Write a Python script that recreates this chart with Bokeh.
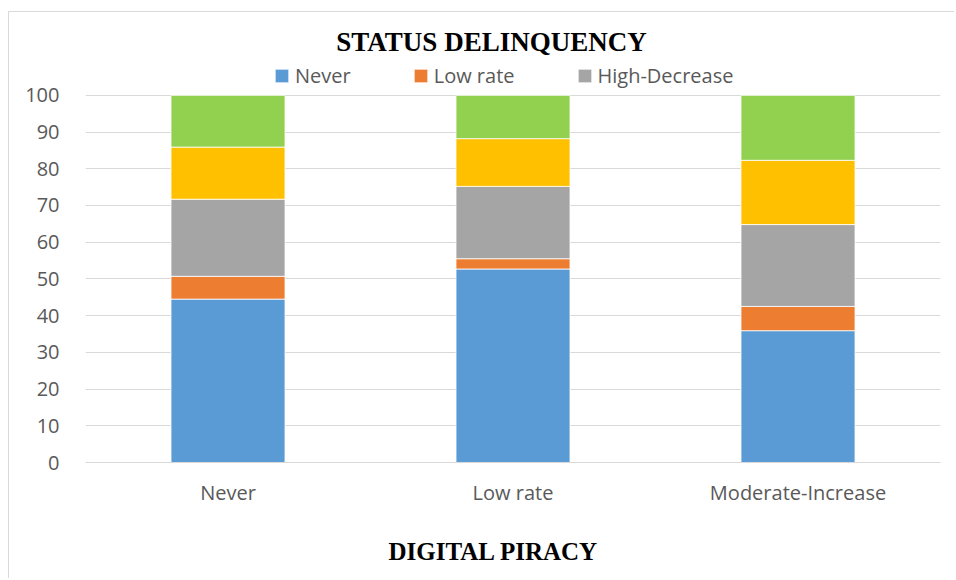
from bokeh.plotting import figure
from bokeh.models import (FactorRange, Range1d, Legend, LegendItem, Title, Label,
                          FixedTicker)
from bokeh.embed import file_html
from bokeh.resources import INLINE

categories = ["Never", "Low rate", "Moderate-Increase"]
series = ["Never", "Low rate", "High-Decrease", "Moderate-Increase", "High-Increase"]
never = [44.5, 52.7, 35.9]
low_rate = [6.2, 2.8, 6.6]
high_decrease = [21.0, 19.7, 22.3]
moderate_increase = [14.2, 13.0, 17.5]
high_increase = [14.1, 11.8, 17.7]
colors = ["#5B9BD5", "#ED7D31", "#A5A5A5", "#FFC000", "#92D050"]
legend_series = ["Never", "Low rate", "High-Decrease"]
y_ticks = [0, 10, 20, 30, 40, 50, 60, 70, 80, 90, 100]

data = {"cat": categories, "Never": never, "Low rate": low_rate,
        "High-Decrease": high_decrease, "Moderate-Increase": moderate_increase,
        "High-Increase": high_increase}

# frame spans page y 14..463; value 100 sits at y=95 (368 px for 0..100)
p = figure(width=954, height=578, x_range=FactorRange(*categories, range_padding=0),
           y_range=Range1d(0, 100 * 449 / 368), output_backend="svg", toolbar_location=None,
           title_location=None,
           min_border_left=85, min_border_right=14, min_border_top=14, min_border_bottom=115)
p.border_fill_alpha = 0
p.background_fill_color = "white"
p.styles = {"background": "linear-gradient(#D9D9D9,#D9D9D9) 8px 11px / 1px 100% no-repeat, "
                          "linear-gradient(#D9D9D9,#D9D9D9) 8px 11px / 100% 1px no-repeat, white"}

rs = p.vbar_stack(series, x="cat", width=0.4, source=data, color=colors,
                  line_color="white", line_width=0.8)

p.outline_line_color = None
p.xgrid.grid_line_color = None
p.ygrid.grid_line_color = "#D9D9D9"
p.ygrid.grid_line_width = 1
p.yaxis.ticker = FixedTicker(ticks=y_ticks)
for ax in (p.xaxis, p.yaxis):
    ax.major_tick_line_color = None
    ax.minor_tick_line_color = None
    ax.major_label_text_font = "Open Sans"
    ax.major_label_text_font_size = "20px"
    ax.major_label_text_color = "#595959"
p.yaxis.axis_line_color = None
p.xaxis.axis_line_color = "#D9D9D9"
p.yaxis.major_label_standoff = 20
p.xaxis.major_label_standoff = 10
# blank spacer label that pushes the axis title a little lower
p.xaxis.axis_label = " "
p.xaxis.axis_label_text_font_size = "10px"
p.xaxis.axis_label_standoff = 0

items = [LegendItem(label=name, renderers=[r]) for name, r in zip(legend_series, rs[:3])]
legend = Legend(items=items, orientation="horizontal", location=(188, 373),
                glyph_width=17, glyph_height=17, label_standoff=5, spacing=61,
                padding=0, margin=0, border_line_color=None, background_fill_alpha=0,
                label_text_font="Open Sans", label_text_font_size="20px",
                label_text_color="#595959")
p.add_layout(legend, "center")

title = Label(x=406, y=421, x_units="screen", y_units="screen", text="STATUS DELINQUENCY",
              text_align="center", text_baseline="alphabetic", text_font="Liberation Serif",
              text_font_style="bold", text_font_size="27px", text_color="black")
p.add_layout(title)

xlabel = Title(text="DIGITAL PIRACY", align="left", offset=303, standoff=27,
               text_font="Liberation Serif", text_font_style="bold",
               text_font_size="25px", text_color="black")
p.add_layout(xlabel, "below")

open("out.html", "w").write(file_html(p, INLINE))
